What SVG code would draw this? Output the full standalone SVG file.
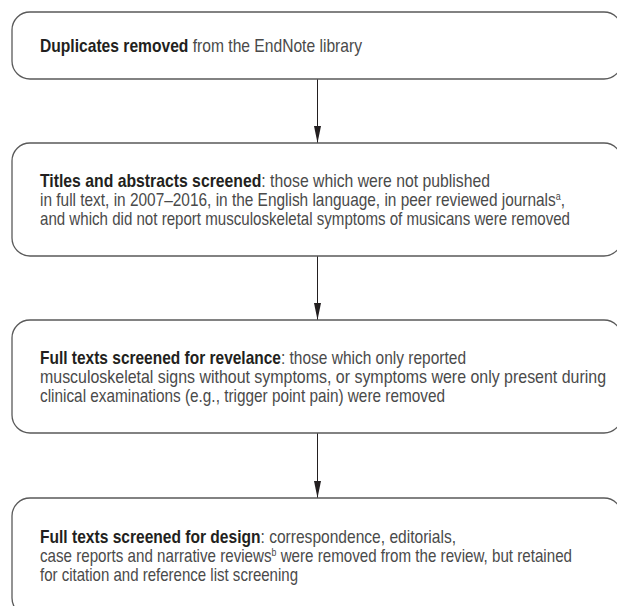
<svg xmlns="http://www.w3.org/2000/svg" width="617" height="606" viewBox="0 0 617 606">
<style>
.box{fill:#fff;stroke:#5a5a5a;stroke-width:1.3}
.t{font-family:"Liberation Sans",Arial,sans-serif;font-size:19px;fill:#4a4a4a}
.b{font-weight:bold;fill:#231f20}
.sup{font-size:11px}
.conn{stroke:#231f20;stroke-width:1;fill:none}
</style>
<defs>
<marker id="ah" markerUnits="userSpaceOnUse" markerWidth="18" markerHeight="8" viewBox="0 0 18 8" refX="17" refY="4" orient="auto">
<path d="M0,0.5 L17,4 L0,7.5 Z" fill="#231f20"/>
</marker>
</defs>
<rect width="617" height="606" fill="#fff"/>
<g id="connectors">
<line class="conn" x1="317.5" y1="79" x2="317.5" y2="143" marker-end="url(#ah)"/>
<line class="conn" x1="317.5" y1="256" x2="317.5" y2="320" marker-end="url(#ah)"/>
<line class="conn" x1="317.5" y1="433" x2="317.5" y2="498" marker-end="url(#ah)"/>
</g>
<g id="node1">
<rect class="box" x="12" y="12" width="610" height="67" rx="18" ry="18"/>
<text class="t" x="40" y="52" textLength="322" lengthAdjust="spacingAndGlyphs"><tspan class="b">Duplicates removed</tspan> from the EndNote library</text>
</g>
<g id="node2">
<rect class="box" x="12" y="143" width="610" height="113" rx="18" ry="18"/>
<text class="t" x="40" y="187" textLength="450" lengthAdjust="spacingAndGlyphs"><tspan class="b">Titles and abstracts screened</tspan>: those which were not published</text>
<text class="t" x="40" y="206" textLength="525" lengthAdjust="spacingAndGlyphs">in full text, in 2007–2016, in the English language, in peer reviewed journals<tspan class="sup" dy="-6">a</tspan><tspan dy="6">,</tspan></text>
<text class="t" x="40" y="225" textLength="530" lengthAdjust="spacingAndGlyphs">and which did not report musculoskeletal symptoms of musicans were removed</text>
</g>
<g id="node3">
<rect class="box" x="12" y="320" width="610" height="113" rx="18" ry="18"/>
<text class="t" x="40" y="364" textLength="426" lengthAdjust="spacingAndGlyphs"><tspan class="b">Full texts screened for revelance</tspan>: those which only reported</text>
<text class="t" x="40" y="383" textLength="566" lengthAdjust="spacingAndGlyphs">musculoskeletal signs without symptoms, or symptoms were only present during</text>
<text class="t" x="40" y="402" textLength="405" lengthAdjust="spacingAndGlyphs">clinical examinations (e.g., trigger point pain) were removed</text>
</g>
<g id="node4">
<rect class="box" x="12" y="498" width="610" height="118" rx="18" ry="18"/>
<text class="t" x="40" y="543" textLength="416" lengthAdjust="spacingAndGlyphs"><tspan class="b">Full texts screened for design</tspan>: correspondence, editorials,</text>
<text class="t" x="40" y="562" textLength="532" lengthAdjust="spacingAndGlyphs">case reports and narrative reviews<tspan class="sup" dy="-6">b</tspan><tspan dy="6"> were removed from the review, but retained</tspan></text>
<text class="t" x="40" y="581" textLength="258" lengthAdjust="spacingAndGlyphs">for citation and reference list screening</text>
</g>
</svg>
